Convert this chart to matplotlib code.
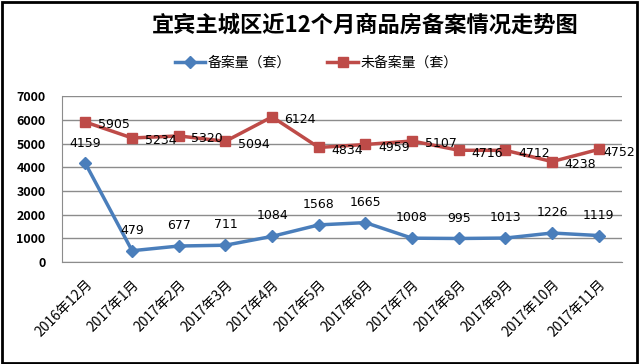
import numpy as np
import matplotlib.pyplot as plt

plt.rcParams['font.family'] = ['Noto Sans CJK SC', 'DejaVu Sans']

# daten
monate = ["2016年12月", "2017年1月", "2017年2月", "2017年3月", "2017年4月", "2017年5月",
          "2017年6月", "2017年7月", "2017年8月", "2017年9月", "2017年10月", "2017年11月"]
beian = [4159, 479, 677, 711, 1084, 1568, 1665, 1008, 995, 1013, 1226, 1119]
weibeian = [5905, 5234, 5320, 5094, 6124, 4834, 4959, 5107, 4716, 4712, 4238, 4752]

blau = "#4a7ebb"
rot = "#be4b48"

fig = plt.figure(figsize=(6.4, 3.64), dpi=100)
ax = fig.add_axes([0.097, 0.280, 0.875, 0.456])

x = np.arange(len(monate))
ax.plot(x, beian, color=blau, linewidth=2.5, marker="D", markersize=6, label="备案量（套）", zorder=3)
ax.plot(x, weibeian, color=rot, linewidth=2.5, marker="s", markersize=7.5, label="未备案量（套）", zorder=3)

# datenbeschriftungen
for i in range(len(x)):
    ax.annotate(str(beian[i]), (x[i], beian[i]), xytext=(0, 10), textcoords="offset points",
                ha="center", va="bottom", fontsize=9, family="DejaVu Sans")
    # letzte beschriftung naeher am punkt, sonst abgeschnitten
    dx = 9 if i < len(x) - 1 else 3
    ax.annotate(str(weibeian[i]), (x[i], weibeian[i]), xytext=(dx, -2), textcoords="offset points",
                ha="left", va="center", fontsize=9, family="DejaVu Sans")

ax.set_xlim(-0.5, len(monate) - 0.5)
ax.set_ylim(0, 7000)
ax.set_yticks(range(0, 7001, 1000))
ax.set_xticks(x)
ax.set_xticklabels(monate, rotation=45, ha="right", rotation_mode="anchor", fontsize=10)
ax.tick_params(axis="y", labelsize=9, length=0, pad=12)
ax.tick_params(axis="x", length=0, pad=11)
for lbl in ax.get_yticklabels():
    lbl.set_fontweight("bold")
ax.grid(axis="y", color="#8c8c8c", linewidth=1)
ax.set_axisbelow(True)
for s in ["top", "right"]:
    ax.spines[s].set_visible(False)
ax.spines["left"].set_color("#8c8c8c")
ax.spines["bottom"].set_color("#8c8c8c")

fig.text(0.57, 0.93, "宜宾主城区近12个月商品房备案情况走势图", ha="center", va="center",
         fontsize=16, fontweight="bold")
fig.legend(loc="center", bbox_to_anchor=(0.494, 0.827), ncol=2, frameon=False, fontsize=10,
           handlelength=2.2, handletextpad=0.2, columnspacing=2.6)

# rahmen
fig.patches.append(plt.Rectangle((0.003, 0.004), 0.992, 0.99, transform=fig.transFigure,
                                 fill=False, edgecolor="black", linewidth=2))

plt.savefig("out.png", dpi=100)
